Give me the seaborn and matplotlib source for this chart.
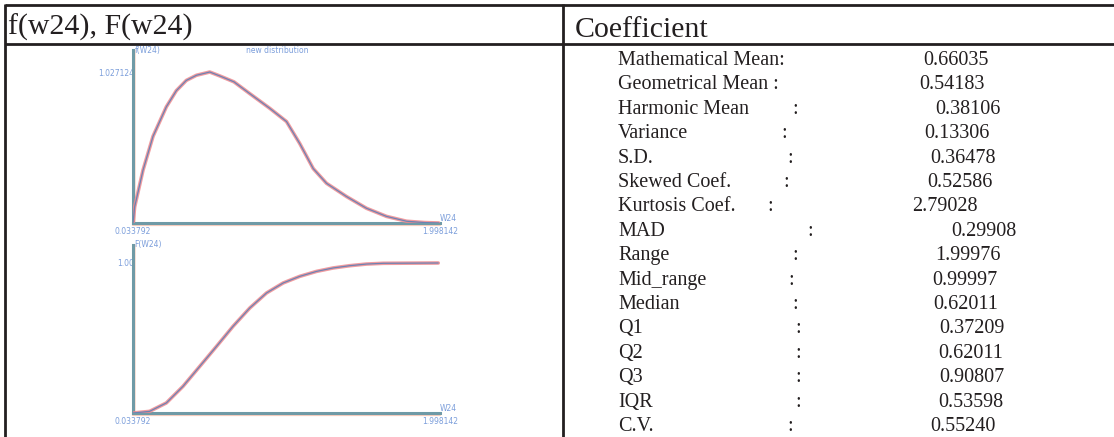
import numpy as np
import pandas as pd
import matplotlib
matplotlib.use("Agg")
import matplotlib.pyplot as plt
import matplotlib.transforms as mtransforms
import seaborn as sns

# ---- data -------------------------------------------------------------
header_left = "f(w24), F(w24)"
header_right = "Coefficient"

# density f(w24)
pdf_w = [0.0338, 0.0445, 0.098, 0.162, 0.247, 0.311, 0.375, 0.440, 0.525,
         0.590, 0.680, 0.781, 0.909, 1.016, 1.101, 1.187, 1.272, 1.400,
         1.528, 1.656, 1.784, 1.900, 1.990]
pdf_f = [0.0, 0.11, 0.36, 0.59, 0.79, 0.90, 0.97, 1.005, 1.027,
         1.00, 0.96, 0.88, 0.78, 0.69, 0.54, 0.37, 0.27, 0.18,
         0.10, 0.045, 0.012, 0.003, 0.0]

# cumulative F(w24)
cdf_w = [0.0338, 0.140, 0.247, 0.354, 0.461, 0.568, 0.674, 0.781, 0.888,
         0.995, 1.101, 1.208, 1.315, 1.421, 1.528, 1.635, 1.987]
cdf_F = [0.0, 0.011, 0.067, 0.178, 0.311, 0.444, 0.578, 0.700, 0.800,
         0.867, 0.911, 0.944, 0.967, 0.982, 0.993, 0.998, 1.0]

w_min, w_max = 0.033792, 1.998142
f_peak = 1.027124
F_top = 1.00

stat_names = ["Mathematical Mean:", "Geometrical Mean :", "Harmonic Mean", "Variance",
              "S.D.", "Skewed Coef.", "Kurtosis Coef.", "MAD", "Range", "Mid_range",
              "Median", "Q1", "Q2", "Q3", "IQR", "C.V."]
stat_values = [0.66035, 0.54183, 0.38106, 0.13306, 0.36478, 0.52586, 2.79028,
               0.29908, 1.99976, 0.99997, 0.62011, 0.37209, 0.62011, 0.90807,
               0.53598, 0.55240]

# ---- layout (pixel positions inside the 1114 x 437 canvas) --------------
W, H = 1114, 437
colon_px = [None, None, 792, 781, 787, 783, 767, 807, 792, 788, 792, 795, 795, 795, 795, 787]
value_px = [923, 919, 935, 924, 930, 927, 912, 951, 935, 932, 933, 939, 938, 939, 938, 930]
row0_baseline, row_step = 65.0, 24.4

sns.set_style("white")
plt.rcParams["font.family"] = ["Liberation Serif", "DejaVu Serif"]

fig = plt.figure(figsize=(W / 100, H / 100), dpi=100)
fig.patch.set_facecolor("white")

# full-canvas layer for the table grid and the statistics text
bg = fig.add_axes([0, 0, 1, 1])
bg.set_xlim(0, W)
bg.set_ylim(H, 0)
bg.axis("off")
bg.patch.set_alpha(0)

ink = "#231f20"
lw = 2.0
bg.plot([5, W], [5, 5], color=ink, lw=lw, solid_capstyle="butt")
bg.plot([5, W], [44, 44], color=ink, lw=lw, solid_capstyle="butt")
bg.plot([5, 5], [4, H], color=ink, lw=lw, solid_capstyle="butt")
bg.plot([563, 563], [4, H], color=ink, lw=lw, solid_capstyle="butt")

bg.text(8, 35, header_left, fontsize=21.5, color=ink, va="baseline", ha="left")
bg.text(575, 37, header_right, fontsize=21.5, color=ink, va="baseline", ha="left")

for i, (name, val) in enumerate(zip(stat_names, stat_values)):
    yb = row0_baseline + i * row_step
    bg.text(618, yb, name, fontsize=14.5, color=ink, va="baseline", ha="left")
    if colon_px[i] is not None:
        bg.text(colon_px[i], yb, ":", fontsize=14.5, color=ink, va="baseline", ha="left")
    bg.text(value_px[i], yb, f"{val:.5f}", fontsize=14.5, color=ink, va="baseline", ha="left")


def panel(left, right, top, bottom):
    return fig.add_axes([left / W, 1 - bottom / H, (right - left) / W, (bottom - top) / H])


axis_col = "#6f9aa6"
fringe_col = "#f5b8a2"
curve_red = "#ee8a8e"
curve_blue = "#5f80b6"
label_col = "#5b86d2"
small = dict(fontsize=5.5, color=label_col, family="DejaVu Sans", alpha=0.8)


def style_panel(ax, ytop_val, ylim_top, ylab, ytick_label):
    ax.set_xlim(w_min, w_max)
    ax.set_ylim(0, ylim_top)
    ax.set_facecolor("none")
    for s in ["top", "right"]:
        ax.spines[s].set_visible(False)
    for s in ["left", "bottom"]:
        ax.spines[s].set_color(axis_col)
        ax.spines[s].set_linewidth(2.2)
    # soft warm fringe along the axes
    off_x = mtransforms.offset_copy(ax.transAxes, fig=fig, x=0, y=-2.2, units="dots")
    ax.plot([0, 1.0], [0, 0], transform=off_x, color=fringe_col, lw=1.6, alpha=0.7,
            clip_on=False, zorder=1)
    off_y = mtransforms.offset_copy(ax.transAxes, fig=fig, x=2.4, y=0, units="dots")
    ax.plot([0, 0], [0, 1.0], transform=off_y, color=fringe_col, lw=1.2, alpha=0.5,
            clip_on=False, zorder=1)
    ax.set_xticks([w_min, w_max], labels=["0.033792", "1.998142"])
    ax.set_yticks([ytop_val], labels=[ytick_label])
    ax.tick_params(axis="x", length=0, pad=3, labelsize=5.5, labelcolor=label_col)
    ax.tick_params(axis="y", length=3, width=1.5, color="#333333", pad=-4,
                   labelsize=5.5, labelcolor=label_col)
    for t in ax.get_xticklabels() + ax.get_yticklabels():
        t.set_family("DejaVu Sans")
        t.set_alpha(0.8)
    ax.set_xlabel("")
    ax.set_ylabel("")
    ax.text(0.005, 1.0, ylab, transform=ax.transAxes, ha="left", va="center", **small)
    ax.text(1.0, 0.0, "W24", transform=ax.transAxes, ha="left", va="bottom", **small)


# density panel
ax1 = panel(133, 440, 50, 223)
pdf_df = pd.DataFrame({"w24": pdf_w, "f": pdf_f})
sns.lineplot(data=pdf_df, x="w24", y="f", ax=ax1, color=curve_red, lw=2.6, alpha=0.85,
             sort=False, zorder=3)
sns.lineplot(data=pdf_df, x="w24", y="f", ax=ax1, color=curve_blue, lw=0.9, alpha=0.9,
             sort=False, zorder=4)
style_panel(ax1, f_peak, f_peak * (223 - 50) / (223 - 72), "f(W24)", "1.027124")
ax1.text(0.47, 1.0, "new distribution", transform=ax1.transAxes, ha="center",
         va="center", **small)

# cumulative panel
ax2 = panel(133, 440, 245, 413)
cdf_df = pd.DataFrame({"w24": cdf_w, "F": cdf_F})
sns.lineplot(data=cdf_df, x="w24", y="F", ax=ax2, color=curve_red, lw=2.6, alpha=0.85,
             sort=False, zorder=3)
sns.lineplot(data=cdf_df, x="w24", y="F", ax=ax2, color=curve_blue, lw=0.9, alpha=0.9,
             sort=False, zorder=4)
style_panel(ax2, F_top, F_top * (413 - 245) / (413 - 263), "F(W24)", "1.00")

fig.savefig("out.png", dpi=100, facecolor="white")
